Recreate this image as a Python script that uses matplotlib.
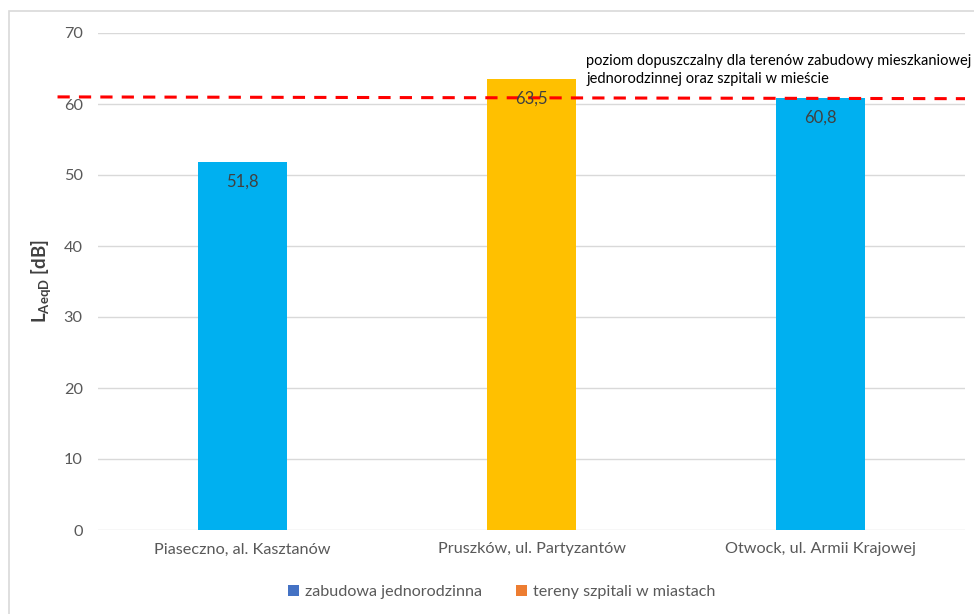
import matplotlib
matplotlib.use("Agg")
import matplotlib.pyplot as plt
from matplotlib.patches import Patch, Rectangle

plt.rcParams['font.family'] = ['Lato', 'DejaVu Sans']
plt.rcParams['mathtext.fontset'] = 'custom'
plt.rcParams['mathtext.rm'] = 'Lato'
plt.rcParams['mathtext.bf'] = 'Lato:bold'

categories = ["Piaseczno, al. Kasztanów", "Pruszków, ul. Partyzantów", "Otwock, ul. Armii Krajowej"]
values = [51.8, 63.5, 60.8]
value_labels = ["51,8", "63,5", "60,8"]
bar_colors = ["#00B0F0", "#FFC000", "#00B0F0"]
legend_labels = ["zabudowa jednorodzinna", "tereny szpitali w miastach"]
legend_colors = ["#4472C4", "#ED7D31"]
limit_x = [-0.64, 2.5]
limit_y = [61.0, 60.75]
limit_text = "poziom dopuszczalny dla terenów zabudowy mieszkaniowej\njednorodzinnej oraz szpitali w mieście"
yticks = [0, 10, 20, 30, 40, 50, 60, 70]

fig = plt.figure(figsize=(9.74, 6.14), dpi=100)
ax = fig.add_axes([98/974, 1-530/614, (965-98)/974, (530-33)/614])

x = list(range(len(categories)))
bars = ax.bar(x, values, width=0.31, color=bar_colors, zorder=3)
for xi, v, lab in zip(x, values, value_labels):
    ax.annotate(lab, (xi, v), xytext=(0, -8), textcoords='offset points',
                ha='center', va='top', fontsize=12, color='#404040', zorder=5)

ax.set_xlim(-0.5, 2.5)
ax.set_ylim(0, 70)
ax.set_yticks(yticks)
ax.set_xticks(x)
ax.set_xticklabels(categories)
ax.tick_params(axis='both', length=0, labelsize=11.7, colors='#595959')
ax.tick_params(axis='x', pad=9)
ax.tick_params(axis='y', pad=11)
ax.grid(axis='y', color='#D9D9D9', linewidth=1, zorder=0)
for s in ax.spines.values():
    s.set_visible(False)

ax.plot(limit_x, limit_y, color='#FF0000', linestyle=(0, (4, 3)), linewidth=2.2,
        zorder=4, clip_on=False)
ax.text(1.19, 62.6, limit_text, fontsize=10.5, color='#000000', ha='left', va='bottom',
        linespacing=1.35)

ax.set_ylabel(r"$\mathbf{L_{AeqD}}$ [dB]", fontsize=13.5, color='#404040',
              fontweight='bold')
ax.yaxis.set_label_coords(-0.052, 0.5)

handles = [Patch(facecolor=c, edgecolor='none') for c in legend_colors]
fig.legend(handles, legend_labels, loc='center', bbox_to_anchor=(502/974, 1-592/614),
           ncol=2, frameon=False, fontsize=11.6, handlelength=0.65, handleheight=0.65,
           handletextpad=0.4, columnspacing=2.1, labelcolor='#595959')

fig.patches.append(Rectangle((9/974, -0.1), 1.2, 1 - 11/614 + 0.1, transform=fig.transFigure,
                             fill=False, edgecolor='#D9D9D9', linewidth=1.2))

fig.savefig("out.png", dpi=100, facecolor='white')
